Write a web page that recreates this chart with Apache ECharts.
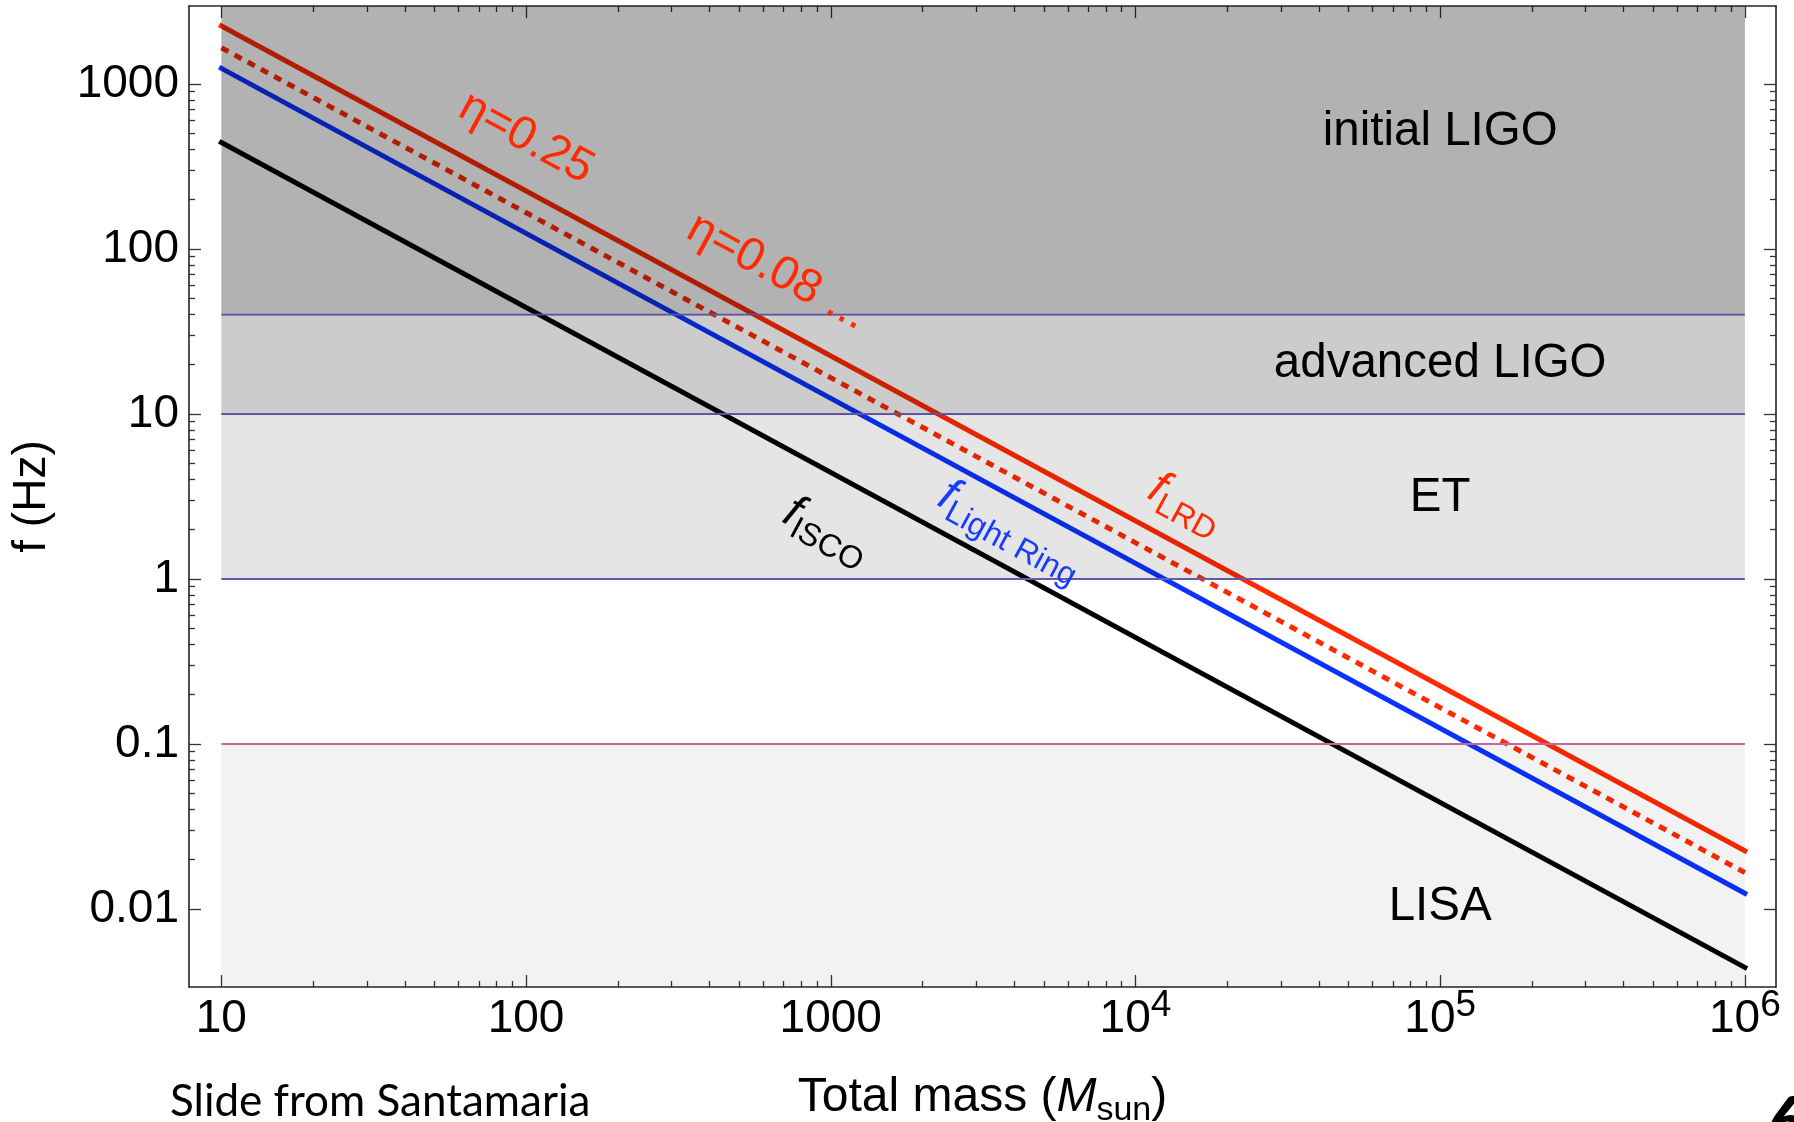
<!DOCTYPE html>
<html>
<head>
<meta charset="utf-8">
<title>GW frequencies vs total mass</title>
<script src="https://cdn.jsdelivr.net/npm/echarts@6.0.0/dist/echarts.min.js"></script>
<style>
html, body { margin: 0; padding: 0; background: #ffffff; }
#chart { width: 1794px; height: 1122px; }
</style>
</head>
<body>
<div id="chart"></div>
<script>
// ---------------- data ----------------
const massExtent = [7.83, 1.265e6];      // x axis range, M_sun
const freqExtent = [0.003365, 2972];     // y axis range, Hz

const xTickValues = [10, 100, 1000, 1e4, 1e5, 1e6];
const xTickLabels = ['10', '100', '1000', '10^4', '10^5', '10^6'];
const yTickValues = [0.01, 0.1, 1, 10, 100, 1000];
const yTickLabels = ['0.01', '0.1', '1', '10', '100', '1000'];
const minorMultipliers = [2, 3, 4, 5, 6, 7, 8, 9];

const fLRD_eta025 = [[10, 2250], [1e6, 0.0225]];
const fLRD_eta008 = [[10, 1660], [1e6, 0.0166]];
const fLightRing  = [[10, 1245], [1e6, 0.01245]];
const fISCO       = [[10, 442],  [1e6, 0.00442]];

const bandNames   = ['initial LIGO', 'advanced LIGO', 'ET', 'LISA'];
const bandLow     = [40, 10, 1, null];
const bandHigh    = [null, 40, 10, 0.1];
const bandMass    = [10, 1e6];
const bandLabelAt = [[1e5, 510], [1e5, 20], [1e5, 3.12], [1e5, 0.0103]];

const curveLabelMain = ['η=0.25', 'η=0.08 ...', 'f', 'f', 'f'];
const curveLabelSub  = ['', '', 'LRD', 'Light Ring', 'ISCO'];
const curveLabelAt   = [[100, 470], [667, 72.6], [14600, 2.85], [3900, 1.98], [970, 1.95]];

// ---------------- styles ----------------
const FONT = '"Liberation Sans", Arial, Helvetica, sans-serif';
const RED = '#ff2a00', BLUE = '#0a33ff', BLACK = '#000000';
const bandFill = ['rgba(0,0,0,0.30)', 'rgba(0,0,0,0.20)', 'rgba(0,0,0,0.10)', 'rgba(0,0,0,0.05)'];
const bandEdge = ['#6459ab', '#6459ab', '#6459ab', '#c46a98'];
const curveLabelColor = [RED, RED, RED, '#1a3cff', BLACK];
const curveRef = [fLRD_eta025, fLRD_eta008, fLRD_eta025, fLightRing, fISCO];

function minorValues(majors) {
  const out = [];
  for (let i = 0; i < majors.length - 1; i++) {
    minorMultipliers.forEach(m => out.push(majors[i] * m));
  }
  return out;
}

function labelFor(values, labels, v) {
  for (let i = 0; i < values.length; i++) {
    if (Math.abs(Math.log10(v) - Math.log10(values[i])) < 1e-6) return labels[i];
  }
  return '';
}

const tickLine = { color: '#333333', width: 1.3 };
const frameLine = { show: true, lineStyle: { color: '#262626', width: 1.6 } };

function logAxis(kind, position, values, len, opts) {
  const ext = kind === 'x' ? massExtent : freqExtent;
  return Object.assign({
    type: 'log', logBase: 10, min: ext[0], max: ext[1], position: position,
    axisLine: { show: false },
    axisTick: { show: true, inside: true, length: len, customValues: values, lineStyle: tickLine },
    axisLabel: { show: false },
    splitLine: { show: false },
    minorTick: { show: false },
    minorSplitLine: { show: false },
    axisPointer: { show: false }
  }, opts || {});
}

const xMinor = minorValues(xTickValues);
const yMinor = minorValues(yTickValues);

const xAxes = [
  logAxis('x', 'bottom', xTickValues, 12, {
    axisLine: frameLine,
    axisLabel: {
      show: true, margin: 7, customValues: xTickValues,
      formatter: v => {
        const s = labelFor(xTickValues, xTickLabels, v);
        if (s.indexOf('^') >= 0) {
          const p = s.split('^');
          return '{b|' + p[0] + '}{p|' + p[1] + '}';
        }
        return '{n|' + s + '}';
      },
      rich: {
        n: { fontSize: 46, lineHeight: 50, fontFamily: FONT, color: '#000' },
        b: { fontSize: 46, lineHeight: 50, fontFamily: FONT, color: '#000' },
        p: { fontSize: 37, lineHeight: 36, fontFamily: FONT, color: '#000', padding: [0, 0, 26, 0] }
      }
    },
    name: '{t|Total mass (}{m|M}{s|sun}{t|)}',
    nameLocation: 'middle', nameGap: 85,
    nameTextStyle: {
      rich: {
        t: { fontSize: 48, lineHeight: 52, fontFamily: FONT, color: '#000' },
        m: { fontSize: 48, lineHeight: 52, fontFamily: FONT, fontStyle: 'italic', color: '#000' },
        s: { fontSize: 34, lineHeight: 36, fontFamily: FONT, color: '#000', padding: [26, 0, 0, 0] }
      }
    }
  }),
  logAxis('x', 'bottom', xMinor, 6),
  logAxis('x', 'top', xTickValues, 12, { axisLine: frameLine }),
  logAxis('x', 'top', xMinor, 6)
];

const yAxes = [
  logAxis('y', 'left', yTickValues, 12, {
    axisLine: frameLine,
    axisLabel: {
      show: true, margin: 10, customValues: yTickValues,
      formatter: v => labelFor(yTickValues, yTickLabels, v),
      fontSize: 46, fontFamily: FONT, color: '#000'
    },
    name: 'f (Hz)', nameLocation: 'middle', nameRotate: 90, nameGap: 132,
    nameTextStyle: { fontSize: 46, lineHeight: 50, fontFamily: FONT, color: '#000' }
  }),
  logAxis('y', 'left', yMinor, 6),
  logAxis('y', 'right', yTickValues, 12, { axisLine: frameLine }),
  logAxis('y', 'right', yMinor, 6)
];

function lineSeries(name, data, color, dashed) {
  return {
    type: 'line', name: name, data: data, xAxisIndex: 0, yAxisIndex: 0,
    symbol: 'none', silent: true, z: 2, clip: false,
    lineStyle: { color: color, width: 5, type: dashed ? [8, 7] : 'solid', cap: dashed ? 'butt' : 'square' }
  };
}

function renderBand(params, api) {
  const i = params.dataIndex;
  const cs = params.coordSys;
  const xL = api.coord([bandMass[0], 1])[0];
  const xR = api.coord([bandMass[1], 1])[0];
  const yTop = bandHigh[i] == null ? cs.y : api.coord([bandMass[0], bandHigh[i]])[1];
  const yBot = bandLow[i] == null ? cs.y + cs.height : api.coord([bandMass[0], bandLow[i]])[1];
  const edgeY = bandLow[i] == null ? yTop : yBot;
  return {
    type: 'group',
    children: [
      { type: 'rect', shape: { x: xL, y: yTop, width: xR - xL, height: yBot - yTop }, style: { fill: bandFill[i] } },
      { type: 'line', shape: { x1: xL, y1: edgeY, x2: xR, y2: edgeY }, style: { stroke: bandEdge[i], lineWidth: 1.8 } }
    ]
  };
}

function renderBandLabel(params, api) {
  const p = api.coord([api.value(0), api.value(1)]);
  return {
    type: 'text', x: p[0], y: p[1],
    style: { text: bandNames[params.dataIndex], fontSize: 47.5, fontFamily: FONT, fill: '#000', align: 'center', verticalAlign: 'middle' }
  };
}

function renderCurveLabel(params, api) {
  const i = params.dataIndex;
  const p = api.coord([api.value(0), api.value(1)]);
  const c = curveRef[i];
  const a = api.coord(c[0]), b = api.coord(c[1]);
  const ang = Math.atan2(b[1] - a[1], b[0] - a[0]);
  const color = curveLabelColor[i];
  const text = curveLabelSub[i]
    ? '{f|' + curveLabelMain[i] + '}{s|' + curveLabelSub[i] + '}'
    : '{g|' + curveLabelMain[i] + '}';
  return {
    type: 'text', x: p[0], y: p[1], rotation: -ang,
    style: {
      text: text, align: 'center', verticalAlign: 'middle', fill: color,
      rich: {
        g: { fontSize: 47, lineHeight: 50, fontFamily: FONT, fill: color },
        f: { fontSize: 47, lineHeight: 50, fontFamily: FONT, fontStyle: 'italic', fill: color },
        s: { fontSize: 32, lineHeight: 34, fontFamily: FONT, fill: color, padding: [26, 0, 0, 0] }
      }
    }
  };
}

const option = {
  animation: false,
  backgroundColor: '#ffffff',
  grid: { left: 189, right: 18, top: 6, bottom: 135, containLabel: false, outerBoundsMode: 'none' },
  xAxis: xAxes,
  yAxis: yAxes,
  series: [
    lineSeries('ISCO', fISCO, BLACK, false),
    lineSeries('Light Ring', fLightRing, BLUE, false),
    lineSeries('LRD eta=0.08', fLRD_eta008, RED, true),
    lineSeries('LRD eta=0.25', fLRD_eta025, RED, false),
    { type: 'custom', name: 'bands', xAxisIndex: 0, yAxisIndex: 0, z: 5, silent: true, clip: false,
      renderItem: renderBand, data: bandLabelAt },
    { type: 'custom', name: 'band labels', xAxisIndex: 0, yAxisIndex: 0, z: 10, silent: true, clip: false,
      renderItem: renderBandLabel, data: bandLabelAt },
    { type: 'custom', name: 'curve labels', xAxisIndex: 0, yAxisIndex: 0, z: 10, silent: true, clip: false,
      renderItem: renderCurveLabel, data: curveLabelAt }
  ],
  graphic: [
    { type: 'text', left: 170, top: 1080, z: 20,
      style: { text: 'Slide from Santamaria', fontSize: 44, fontFamily: 'Lato, "Open Sans", sans-serif', fill: '#000' } },
    { type: 'text', left: 1767, top: 1089, z: 20,
      style: { text: '6', fontSize: 70, fontWeight: 'bold', fontFamily: 'Lato, sans-serif', fill: '#000' } }
  ]
};

const chart = echarts.init(document.getElementById('chart'), null, { renderer: 'canvas' });
chart.setOption(option);
</script>
</body>
</html>
